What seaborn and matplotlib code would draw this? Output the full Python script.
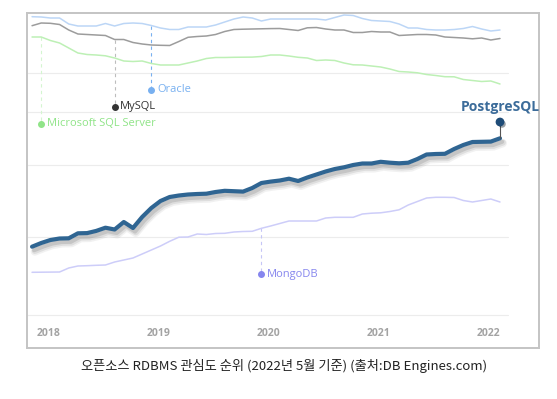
import numpy as np
import pandas as pd
import matplotlib.pyplot as plt
import matplotlib.patheffects as pe
import seaborn as sns

# monthly interest index (no y scale shown)
months = np.arange(52)
oracle = [331.3, 331, 330, 330, 324, 322, 322, 322, 324.5, 322, 324.5, 325, 324.5,
          322.5, 320, 318.5, 318.5, 321, 321, 321, 323, 326, 329, 331, 330, 327,
          329, 329, 329, 329, 329, 329, 328, 330.5, 333, 332.5, 329.5, 327.5, 327,
          326.5, 324, 320, 320, 318.5, 318, 318, 318.5, 319.5, 321.5, 319, 317, 318]
mysql = [322.3, 325, 324.7, 323.5, 318, 314, 313.5, 313, 312.5, 308.5, 308.5, 305.5,
         304, 303, 302.7, 302.5, 306.5, 310.7, 311.5, 312, 313.5, 316.5, 318.5, 318.8,
         319, 319.2, 319.4, 319.5, 318.5, 317.5, 320.2, 320.5, 319, 318, 318, 315.5,
         315.5, 316.5, 316, 316, 312.5, 313, 313.5, 313.5, 313, 311, 310.5, 310,
         309.2, 310, 308, 309.5]
mssql = [311, 311, 307.5, 305, 300, 295, 293.5, 293, 292.2, 290, 287, 286.5, 287,
         284.5, 283, 283, 283, 285, 287, 289.5, 290.5, 290.5, 290.7, 290.8, 290.9,
         291.5, 293, 293, 292, 290.7, 290, 287.5, 288, 287.5, 285, 283.2, 283, 282,
         281, 279, 276.5, 276, 275.2, 273.5, 272.5, 271.3, 271.2, 268.5, 267.5,
         266.5, 267, 264]
postgres = [101.3, 105, 108, 109.5, 109.7, 114.7, 114.9, 117.1, 120.3, 118.5, 126, 120,
            131, 140, 147, 151, 152.5, 153.5, 154, 154.3, 156, 157.2, 156.8, 156.4,
            160, 165, 166.4, 167.5, 169.3, 167, 170.5, 173.5, 176.5, 179, 180.7, 183,
            184.5, 184.5, 186.2, 185.3, 184.7, 185.3, 189, 193.5, 194, 194.2, 199,
            203, 206, 206.2, 206.4, 209.7]
mongodb = [75.7, 75.8, 75.9, 76, 80, 82, 82.3, 82.7, 83, 86, 88, 90, 94, 98, 102,
           106.7, 110.8, 111, 114, 113.5, 114.5, 114.7, 116, 116.5, 116.7, 119.7, 122,
           124.5, 127, 127, 127, 127, 130, 130.7, 130.7, 130.7, 134, 134.8, 135.2,
           136.5, 138.2, 143, 146.5, 150, 150.7, 150.7, 150.5, 147.5, 146, 147.5, 149,
           146]

years = ['2018', '2019', '2020', '2021', '2022']
grid_levels = [275, 236, 183, 111, 33]

sns.set_style('white')
plt.rcParams['font.family'] = ['Open Sans', 'Noto Sans CJK KR', 'DejaVu Sans']

fig = plt.figure(figsize=(5.57, 3.99), dpi=100)
ax = fig.add_axes([27 / 557, 51 / 399, 512 / 557, 335 / 399])

for g in grid_levels:
    ax.axhline(g, xmin=0, xmax=0.94, color='#ececec', lw=0.8, zorder=0)

sns.lineplot(x=months, y=mongodb, color='#cdcdf9', lw=1.1, ax=ax)
sns.lineplot(x=months, y=mssql, color='#bdf0b5', lw=1.1, ax=ax)
sns.lineplot(x=months, y=mysql, color='#9c9c9c', lw=1.1, ax=ax)
sns.lineplot(x=months, y=oracle, color='#bcd6f6', lw=1.1, ax=ax)

# soft drop shadow made of a few stacked translucent strokes
shadow = [pe.SimpleLineShadow(offset=(2, -3.5), shadow_color='#555555', alpha=0.08, linewidth=6),
          pe.SimpleLineShadow(offset=(2, -3), shadow_color='#555555', alpha=0.12, linewidth=4.5),
          pe.SimpleLineShadow(offset=(1.5, -2.5), shadow_color='#555555', alpha=0.18, linewidth=3),
          pe.Normal()]
sns.lineplot(x=months, y=postgres, color='#2f6592', lw=3.0, ax=ax, zorder=5, path_effects=shadow)

# callouts: name, series, month index, label level, line colour, dot colour, text colour
callouts = [
    ('Microsoft SQL Server', mssql, 1, 224, '#d4f5d0', '#90e488', '#90e488'),
    ('MySQL', mysql, 9, 241, '#bdbdbd', '#333333', '#333333'),
    ('Oracle', oracle, 13, 258, '#78b0f0', '#78b0f0', '#78b0f0'),
    ('MongoDB', mongodb, 25, 74, '#c6c6f6', '#8686ee', '#8686ee'),
]
for name, series, i, lvl, lc, dc, tc in callouts:
    ax.plot([months[i], months[i]], [series[i], lvl], ls=(0, (3, 3)), lw=0.8, color=lc, zorder=1)
    ax.scatter([months[i]], [lvl], s=16, color=dc, zorder=6)
    ax.annotate(name, (months[i], lvl), xytext=(4, 0), textcoords='offset points',
                va='center', ha='left', fontsize=8, color=tc)

# PostgreSQL pin at the latest point
last = months[-1]
pin = 226
ax.plot([last, last], [postgres[-1], pin], color='#555555', lw=0.8, zorder=6)
ax.scatter([last], [pin], s=28, color='#1f4c78', zorder=7,
           path_effects=[pe.SimplePatchShadow(offset=(1.5, -1.5), alpha=0.4), pe.Normal()])
ax.annotate('PostgreSQL', (last, pin), xytext=(0, 11), textcoords='offset points',
            ha='center', va='center', fontsize=10, fontweight='bold', color='#3c6c9a')

year_pos = [1.75 + 12 * k for k in range(len(years))]
for p, y in zip(year_pos, years):
    ax.text(p, 15, y, ha='center', va='center', fontsize=7.5, fontweight='bold', color='#a3a3a3')

ax.set_xlim(-0.55, 55.25)
ax.set_ylim(0, 335)
ax.set_xticks([])
ax.set_yticks([])
ax.set_xlabel('')
ax.set_ylabel('')
for s in ax.spines.values():
    s.set_color('#c4c4c4')
    s.set_linewidth(1.4)

fig.text(0.51, 0.083, '오픈소스 RDBMS 관심도 순위 (2022년 5월 기준) (출처:DB Engines.com)',
         ha='center', va='center', fontsize=9.5, color='#222222',
         family=['Noto Sans CJK KR', 'DejaVu Sans'])

fig.savefig('out.png', dpi=100)
